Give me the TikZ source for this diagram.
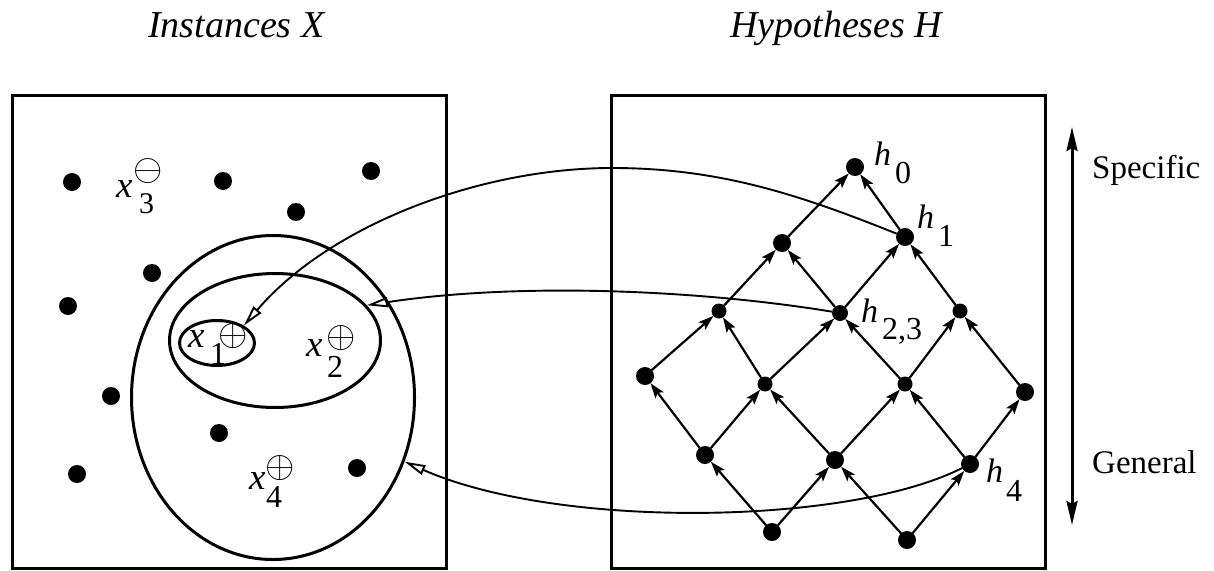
\RequirePackage{fix-cm}
\documentclass[tikz,border=0pt]{standalone}
\usepackage{fontspec}
\setmainfont{Liberation Serif}
\usetikzlibrary{arrows.meta,shapes.geometric}
\newcommand{\bigop}[1]{\scalebox{1.45}{$#1$}}
\begin{document}
\begin{tikzpicture}[x=1pt,y=-1pt,
  bigdot/.style={circle,fill=black,inner sep=0pt,outer sep=0pt,minimum size=18pt},
  smalldot/.style={circle,fill=black,inner sep=0pt,outer sep=0pt,minimum size=15pt},
  middot/.style={circle,fill=black,inner sep=0pt,outer sep=0pt,minimum size=16pt},
  ptdot/.style={circle,fill=black,inner sep=0pt,outer sep=0pt,minimum size=18pt},
  ell/.style={draw,ellipse,line width=3pt,inner sep=0pt},
  frame/.style={draw,line width=3pt},
  lat/.style={line width=2.2pt,-{Stealth[length=15pt,width=10pt,inset=3pt]}},
  conn/.style={line width=1.9pt,-{Triangle[open,length=21pt,width=10pt]}},
  title/.style={font=\fontsize{38}{40}\selectfont\itshape,anchor=base west,inner sep=0pt},
  side/.style={font=\fontsize{33}{35}\selectfont,anchor=base west,inner sep=0pt},
  lbl/.style={font=\fontsize{34}{36}\selectfont\itshape,anchor=base west,inner sep=0pt},
  xl/.style={font=\fontsize{37}{39}\selectfont\itshape,anchor=base west,inner sep=0pt},
  sub/.style={font=\fontsize{32}{34}\selectfont,anchor=base west,inner sep=0pt},
  sym/.style={font=\fontsize{26}{28}\selectfont,inner sep=0pt}
]
\useasboundingbox (0,0) rectangle (1214,570);

% titles
\node[title] (tX) at (148,37) {Instances X};
\node[title] (tH) at (730,37) {Hypotheses H};

% frames
\draw[frame] (12.5,95) rectangle (446.5,568);
\draw[frame] (611.5,95) rectangle (1045.5,568);

% instance points
\node[ptdot] (p1) at (72,182) {};
\node[ptdot] (p2) at (223,181) {};
\node[ptdot] (p3) at (371,171) {};
\node[ptdot] (p4) at (296,212) {};
\node[ptdot] (p5) at (152,273) {};
\node[ptdot] (p6) at (68,306) {};
\node[ptdot] (p7) at (111,396) {};
\node[ptdot] (p8) at (219,433) {};
\node[ptdot] (p9) at (77,474) {};
\node[ptdot] (p10) at (357,468) {};

% ellipses
\node[ell,minimum width=75pt,minimum height=45pt] (e1) at (217,343) {};
\node[ell,minimum width=211pt,minimum height=134pt] (e2) at (275,340.5) {};
\node[ell,minimum width=283pt,minimum height=324pt] (e3) at (273,397.5) {};

% instance labels
\node[xl] (x3) at (116,197) {x};
\node[sub,font=\fontsize{30}{32}\selectfont] (x3s) at (139,213) {3};
\node[sym] (x3c) at (148,171) {\bigop{\ominus}};

\node[xl] (x1) at (188,347) {x};
\node[sub] (x1s) at (210,364) {1};
\node[sym] (x1c) at (233,336) {\bigop{\oplus}};

\node[xl] (x2) at (306,356) {x};
\node[sub] (x2s) at (327,377) {2};
\node[sym] (x2c) at (341,338) {\bigop{\oplus}};

\node[xl] (x4) at (249,489) {x};
\node[sub] (x4s) at (266,507) {4};
\node[sym] (x4c) at (280,468) {\bigop{\oplus}};

% lattice
\node[bigdot] (h0) at (855,167) {};
\node[bigdot] (h1) at (905,237) {};
\node[bigdot] (a) at (782,243) {};
\node[smalldot] (b) at (719,311) {};
\node[middot] (h23) at (840,313) {};
\node[smalldot] (c) at (960,311) {};
\node[bigdot] (d) at (645,376) {};
\node[smalldot] (e) at (765,384) {};
\node[smalldot] (f) at (905,384) {};
\node[bigdot] (g) at (1025,392) {};
\node[bigdot] (i) at (705,455) {};
\node[bigdot] (j) at (835,460) {};
\node[bigdot] (h4) at (970,464) {};
\node[bigdot] (k) at (772,532) {};
\node[bigdot] (l) at (907,540) {};

\draw[lat] (a) -- (h0);
\draw[lat] (h1) -- (h0);
\draw[lat] (b) -- (a);
\draw[lat] (h23) -- (a);
\draw[lat] (h23) -- (h1);
\draw[lat] (c) -- (h1);
\draw[lat] (d) -- (b);
\draw[lat] (e) -- (b);
\draw[lat] (e) -- (h23);
\draw[lat] (f) -- (h23);
\draw[lat] (f) -- (c);
\draw[lat] (g) -- (c);
\draw[lat] (i) -- (d);
\draw[lat] (i) -- (e);
\draw[lat] (j) -- (e);
\draw[lat] (j) -- (f);
\draw[lat] (h4) -- (f);
\draw[lat] (h4) -- (g);
\draw[lat] (k) -- (i);
\draw[lat] (k) -- (j);
\draw[lat] (l) -- (j);
\draw[lat] (l) -- (h4);

% hypothesis labels
\node[lbl] (lh0) at (874,165) {h};
\node[sub] (lh0s) at (895,183) {0};
\node[lbl] (lh1) at (917,228) {h};
\node[sub] (lh1s) at (938,246) {1};
\node[lbl] (lh23) at (861,322) {h};
\node[sub] (lh23s) at (882,339) {2,3};
\node[lbl] (lh4) at (986,482) {h};
\node[sub] (lh4s) at (1006,501) {4};

% connectors
\coordinate (m1) at (612,168);
\draw[conn] (h1) .. controls (800,195) and (720,168) .. (m1)
  .. controls (480,168) and (330,225) .. (e1.33);
\draw[conn] (h23) .. controls (700,290) and (520,282) .. (e2.21);
\draw[conn] (h4) .. controls (850,525) and (560,530) .. (e3.-26);

% specific / general axis
\coordinate (vt) at (1072,127);
\coordinate (vb) at (1072,525);
\draw[line width=3pt,{Stealth[length=24pt,width=11pt,inset=3pt]}-{Stealth[length=24pt,width=11pt,inset=3pt]}] (vt) -- (vb);
\node[side] (sp) at (1092,178) {Specific};
\node[side] (ge) at (1092,473) {General};
\end{tikzpicture}
\end{document}
